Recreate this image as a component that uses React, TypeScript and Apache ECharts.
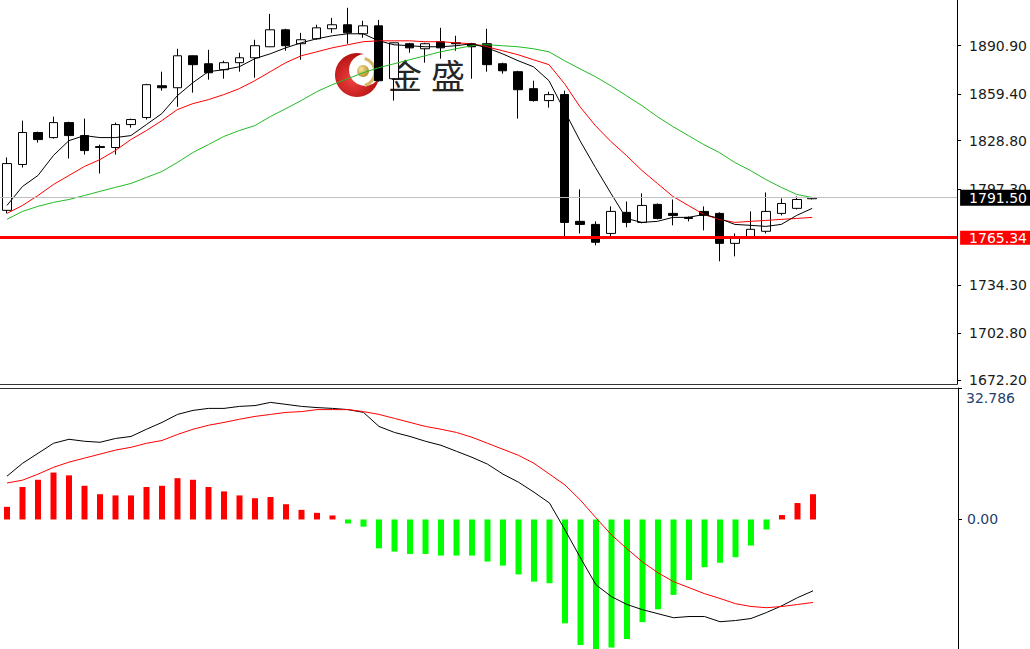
import React, { useEffect, useRef } from 'react';
import * as echarts from 'echarts';

// ---- data ----
const opens = [1783.2, 1813.2, 1834.1, 1830.8, 1840.6, 1832.1, 1824.9, 1824.3, 1839.3, 1843.9, 1864.7, 1863.4, 1884.3, 1879.1, 1875.2, 1879.8, 1883.0, 1890.2, 1901.3, 1892.2, 1895.4, 1902.0, 1904.6, 1898.7, 1903.9, 1869.3, 1892.2, 1888.9, 1893.5, 1892.8, 1892.2, 1892.2, 1879.1, 1873.9, 1862.8, 1855.0, 1858.9, 1776.0, 1774.0, 1768.1, 1781.9, 1775.3, 1787.1, 1781.2, 1778.6, 1782.5, 1781.2, 1761.6, 1765.5, 1769.5, 1781.2, 1784.5, 1790.8];
const closes = [1813.8, 1834.1, 1829.5, 1840.6, 1832.1, 1822.3, 1824.3, 1839.3, 1842.6, 1865.4, 1863.4, 1884.3, 1878.5, 1873.2, 1879.8, 1883.0, 1890.9, 1901.3, 1890.9, 1894.8, 1902.6, 1904.6, 1899.3, 1903.9, 1868.0, 1892.8, 1889.5, 1892.2, 1889.5, 1892.2, 1890.2, 1878.5, 1874.5, 1862.1, 1855.0, 1858.9, 1775.3, 1774.0, 1762.3, 1782.5, 1775.3, 1786.4, 1777.9, 1779.9, 1777.9, 1779.9, 1761.6, 1764.9, 1770.8, 1782.5, 1787.7, 1790.3, 1791.5];
const lows = [1781.2, 1811.2, 1827.5, 1830.1, 1817.1, 1819.7, 1807.3, 1819.7, 1837.3, 1842.6, 1861.5, 1851.0, 1860.2, 1868.7, 1869.3, 1873.9, 1870.0, 1890.0, 1887.6, 1881.7, 1894.8, 1899.3, 1892.2, 1896.1, 1867.4, 1855.0, 1886.3, 1879.8, 1882.4, 1887.6, 1869.3, 1873.9, 1872.6, 1843.2, 1854.3, 1850.4, 1765.3, 1768.1, 1760.3, 1765.5, 1772.1, 1774.7, 1777.3, 1773.4, 1776.0, 1770.1, 1749.9, 1753.1, 1764.9, 1768.1, 1779.9, 1783.8, 1790.3];
const highs = [1817.8, 1841.9, 1834.7, 1844.5, 1841.2, 1843.2, 1826.2, 1840.6, 1843.2, 1866.0, 1873.9, 1888.9, 1884.5, 1888.2, 1881.1, 1886.3, 1894.8, 1911.7, 1902.0, 1899.3, 1904.6, 1909.1, 1915.7, 1907.2, 1907.8, 1893.0, 1892.8, 1892.8, 1902.6, 1897.4, 1892.8, 1902.0, 1879.8, 1874.5, 1868.0, 1860.8, 1861.5, 1796.9, 1776.0, 1785.8, 1789.0, 1794.3, 1787.7, 1790.3, 1779.2, 1785.8, 1781.9, 1768.1, 1782.5, 1794.9, 1791.0, 1792.3, 1792.0];

const maFast = [1786.4, 1798.8, 1806.0, 1819.1, 1828.8, 1832.1, 1830.8, 1830.8, 1832.1, 1839.3, 1846.5, 1858.2, 1866.7, 1873.9, 1875.2, 1877.1, 1882.4, 1885.6, 1889.5, 1892.8, 1895.4, 1897.4, 1898.7, 1898.7, 1894.1, 1891.5, 1890.9, 1890.2, 1890.2, 1890.9, 1892.2, 1889.5, 1885.6, 1881.1, 1877.1, 1868.0, 1848.4, 1828.8, 1811.2, 1794.3, 1777.9, 1775.3, 1776.0, 1778.6, 1778.6, 1780.5, 1777.9, 1774.0, 1773.4, 1772.7, 1774.0, 1779.9, 1784.5];
const maMid = [1781.2, 1786.4, 1792.9, 1800.1, 1806.0, 1811.9, 1816.4, 1822.3, 1829.5, 1835.4, 1841.9, 1849.1, 1853.0, 1855.6, 1858.9, 1862.8, 1868.0, 1873.9, 1879.8, 1884.3, 1886.9, 1889.5, 1891.5, 1893.5, 1894.1, 1894.1, 1894.1, 1893.5, 1893.5, 1892.8, 1892.2, 1890.2, 1887.6, 1885.0, 1881.7, 1878.5, 1866.1, 1851.0, 1838.6, 1828.2, 1819.1, 1809.3, 1800.8, 1792.3, 1786.4, 1780.5, 1777.3, 1775.3, 1776.0, 1776.6, 1777.3, 1777.9, 1778.6];
const maSlow = [1777.3, 1782.5, 1785.8, 1788.4, 1790.3, 1792.9, 1795.6, 1798.2, 1800.8, 1804.7, 1808.6, 1814.5, 1821.0, 1826.2, 1831.5, 1835.4, 1838.6, 1844.5, 1849.7, 1855.0, 1860.8, 1865.4, 1869.3, 1873.2, 1876.5, 1879.1, 1881.7, 1884.3, 1886.9, 1888.9, 1890.9, 1891.5, 1890.9, 1890.2, 1888.9, 1886.9, 1881.1, 1875.8, 1870.6, 1864.7, 1858.2, 1851.7, 1844.5, 1838.0, 1832.1, 1826.2, 1821.0, 1814.5, 1809.3, 1803.4, 1798.2, 1793.6, 1791.6];

const macdHist = [3.15, 8.1, 9.9, 11.7, 11.0, 8.4, 6.3, 6.0, 6.0, 8.1, 8.4, 10.3, 9.9, 8.1, 7.0, 6.0, 5.3, 5.6, 3.8, 2.4, 1.65, 1.0, -1.0, -1.8, -7.2, -8.0, -8.6, -8.6, -9.0, -9.0, -9.0, -10.5, -11.5, -13.7, -15.5, -15.9, -25.9, -31.3, -32.5, -31.9, -29.8, -25.6, -22.4, -18.8, -15.1, -11.9, -10.8, -9.4, -6.5, -2.5, 1.1, 4.1, 6.3];
const macdLine = [10.8, 14.0, 16.5, 19.0, 20.0, 19.5, 19.25, 20.2, 20.7, 22.5, 24.2, 26.2, 27.2, 27.7, 27.7, 28.2, 28.4, 29.2, 28.7, 28.2, 27.9, 27.7, 27.4, 26.7, 23.2, 21.7, 20.7, 19.5, 18.5, 17.0, 15.5, 13.8, 11.3, 9.3, 6.8, 4.1, -2.6, -9.6, -16.3, -19.25, -21.2, -22.5, -23.5, -24.5, -24.2, -24.2, -25.5, -25.2, -24.7, -23.2, -21.5, -19.5, -17.8];
const signalLine = [9.1, 9.8, 11.3, 13.0, 14.3, 15.3, 16.3, 17.3, 18.0, 19.0, 19.7, 21.2, 22.5, 23.5, 24.2, 25.0, 25.7, 26.2, 26.7, 26.9, 27.4, 27.4, 27.4, 26.9, 26.2, 25.2, 24.2, 23.2, 22.5, 21.7, 20.5, 19.0, 17.5, 16.0, 14.0, 11.3, 8.6, 4.8, 0.4, -3.85, -7.3, -10.6, -13.3, -15.5, -17.0, -18.5, -19.7, -21.0, -21.7, -22.0, -21.7, -21.2, -20.7];

const priceTicks = [1672.2, 1702.8, 1734.3, 1797.3, 1828.8, 1859.4, 1890.9];
const macdTicks = [0, 32.786];
const macdTickLabels = ['0.00', '32.786'];
const lastPrice = 1791.5;
const supportLevel = 1765.34;
const priceMin = 1669.6;
const priceMax = 1920.8;
const macdMin = -32.3;
const macdMax = 32.786;
const brandText = ['金', '盛'];

// ---- layout ----
const AXIS_X = 958;
const STEP = 15.5;
const FIRST_X = 7;
const X_MIN = -FIRST_X / STEP;
const X_MAX = X_MIN + AXIS_X / STEP;
const FONT = 'DejaVu Sans';
const LABEL_SIZE = 14;

export default function App() {
  const ref = useRef<HTMLDivElement>(null);

  useEffect(() => {
    if (!ref.current) return;
    const chart = echarts.init(ref.current, undefined, { renderer: 'svg' });

    const candleData = opens.map((o, i) => [i, o, closes[i], lows[i], highs[i]]);
    const toXY = (arr: number[]) => arr.map((v, i) => [i, v]);

    const xAxisBase = {
      type: 'value',
      min: X_MIN,
      max: X_MAX,
      axisTick: { show: false },
      axisLabel: { show: false },
      splitLine: { show: false },
    };

    const option: any = {
      animation: false,
      backgroundColor: '#ffffff',
      textStyle: { fontFamily: FONT },
      grid: [
        { left: 0, top: 0, width: AXIS_X, height: 384 },
        { left: 0, top: 388, width: AXIS_X, height: 261 },
      ],
      xAxis: [
        {
          ...xAxisBase,
          gridIndex: 0,
          position: 'bottom',
          axisLine: { show: true, onZero: false, lineStyle: { color: '#333', width: 1 } },
        },
        {
          ...xAxisBase,
          gridIndex: 1,
          position: 'top',
          axisLine: { show: true, onZero: false, lineStyle: { color: '#333', width: 1 } },
        },
      ],
      yAxis: [
        {
          gridIndex: 0,
          type: 'value',
          position: 'right',
          min: priceMin,
          max: priceMax,
          axisLine: { show: true, onZero: false, lineStyle: { color: '#000', width: 1 } },
          axisTick: { show: true, length: 4, customValues: priceTicks, lineStyle: { color: '#000' } },
          axisLabel: {
            customValues: priceTicks,
            formatter: (v: number) => v.toFixed(2),
            color: '#1a1a1a',
            fontSize: LABEL_SIZE,
            fontFamily: FONT,
            margin: 12,
          },
          splitLine: { show: false },
        },
        {
          gridIndex: 1,
          type: 'value',
          position: 'right',
          min: macdMin,
          max: macdMax,
          axisLine: { show: true, onZero: false, lineStyle: { color: '#000', width: 1 } },
          axisTick: { show: true, length: 4, customValues: macdTicks, lineStyle: { color: '#000' } },
          axisLabel: {
            customValues: macdTicks,
            formatter: (v: number) => {
              const k = macdTicks.indexOf(v);
              const txt = k >= 0 ? macdTickLabels[k] : String(v);
              return v > 0 ? '{t|' + txt + '}' : '{z|' + txt + '}';
            },
            color: '#24406e',
            fontSize: LABEL_SIZE,
            fontFamily: FONT,
            margin: 8,
            rich: {
              t: { color: '#24406e', fontSize: LABEL_SIZE, fontFamily: FONT, padding: [20, 0, 0, 0] },
              z: { color: '#24406e', fontSize: LABEL_SIZE, fontFamily: FONT, padding: [0, 0, 0, 1] },
            },
          },
          splitLine: { show: false },
        },
      ],
      graphic: [
        {
          type: 'circle',
          z: 1,
          shape: { cx: 357, cy: 75, r: 22 },
          style: {
            fill: new echarts.graphic.RadialGradient(0.4, 0.6, 0.7, [
              { offset: 0, color: '#f04040' },
              { offset: 1, color: '#a80808' },
            ]),
          },
        },
        { type: 'circle', z: 1, shape: { cx: 365, cy: 70, r: 16 }, style: { fill: '#ffffff' } },
        {
          type: 'arc',
          z: 1,
          shape: { cx: 361, cy: 72, r: 14, startAngle: -1.3, endAngle: 1.3, clockwise: true },
          style: { stroke: '#d6b765', lineWidth: 3, fill: 'none' },
        },
        {
          type: 'circle',
          z: 1,
          shape: { cx: 363, cy: 71, r: 6 },
          style: {
            fill: new echarts.graphic.RadialGradient(0.35, 0.35, 0.7, [
              { offset: 0, color: '#f6e6a0' },
              { offset: 1, color: '#b38e2a' },
            ]),
          },
        },
        {
          type: 'text',
          z: 1,
          x: 388,
          y: 57,
          style: { text: brandText[0], fontSize: 34, fontFamily: 'Noto Sans CJK SC', fill: '#262626' },
        },
        {
          type: 'text',
          z: 1,
          x: 431,
          y: 57,
          style: { text: brandText[1], fontSize: 34, fontFamily: 'Noto Sans CJK SC', fill: '#262626' },
        },
      ],
      series: [
        {
          type: 'candlestick',
          xAxisIndex: 0,
          yAxisIndex: 0,
          data: candleData,
          barWidth: 9,
          itemStyle: {
            color: '#ffffff',
            color0: '#000000',
            borderColor: '#000000',
            borderColor0: '#000000',
            borderWidth: 1,
          },
          markLine: {
            silent: true,
            symbol: ['none', 'none'],
            data: [
              {
                yAxis: lastPrice,
                lineStyle: { color: '#c0c0c0', width: 1, type: 'solid' },
                label: {
                  show: true,
                  position: 'end',
                  distance: 3,
                  formatter: (p: any) => Number(p.value).toFixed(2),
                  color: '#ffffff',
                  backgroundColor: '#000000',
                  padding: [1, 12, 1, 9],
                  fontSize: LABEL_SIZE,
                  fontFamily: FONT,
                },
              },
              {
                yAxis: supportLevel,
                lineStyle: { color: '#ff0000', width: 3, type: 'solid' },
                label: {
                  show: true,
                  position: 'end',
                  distance: 3,
                  formatter: (p: any) => Number(p.value).toFixed(2),
                  color: '#ffffff',
                  backgroundColor: '#ff0000',
                  padding: [0, 12, 0, 9],
                  fontSize: LABEL_SIZE,
                  fontFamily: FONT,
                },
              },
            ],
          },
        },
        {
          type: 'line',
          xAxisIndex: 0,
          yAxisIndex: 0,
          data: toXY(maSlow),
          showSymbol: false,
          lineStyle: { color: '#22bb22', width: 1 },
          z: 3,
        },
        {
          type: 'line',
          xAxisIndex: 0,
          yAxisIndex: 0,
          data: toXY(maMid),
          showSymbol: false,
          lineStyle: { color: '#ff0000', width: 1 },
          z: 3,
        },
        {
          type: 'line',
          xAxisIndex: 0,
          yAxisIndex: 0,
          data: toXY(maFast),
          showSymbol: false,
          lineStyle: { color: '#000000', width: 1 },
          z: 3,
        },
        {
          type: 'bar',
          xAxisIndex: 1,
          yAxisIndex: 1,
          data: toXY(macdHist),
          barWidth: 6,
          clip: true,
          itemStyle: {
            color: (p: any) => (p.value[1] >= 0 ? '#ff0000' : '#00ff00'),
          },
        },
        {
          type: 'line',
          xAxisIndex: 1,
          yAxisIndex: 1,
          data: toXY(macdLine),
          showSymbol: false,
          lineStyle: { color: '#000000', width: 1 },
          z: 3,
        },
        {
          type: 'line',
          xAxisIndex: 1,
          yAxisIndex: 1,
          data: toXY(signalLine),
          showSymbol: false,
          lineStyle: { color: '#ff0000', width: 1 },
          z: 3,
        },
      ],
    };

    chart.setOption(option);
    return () => chart.dispose();
  }, []);

  return (
    <div
      ref={ref}
      style={{ position: 'fixed', left: 0, top: 0, width: 1030, height: 649, background: '#fff' }}
    />
  );
}
